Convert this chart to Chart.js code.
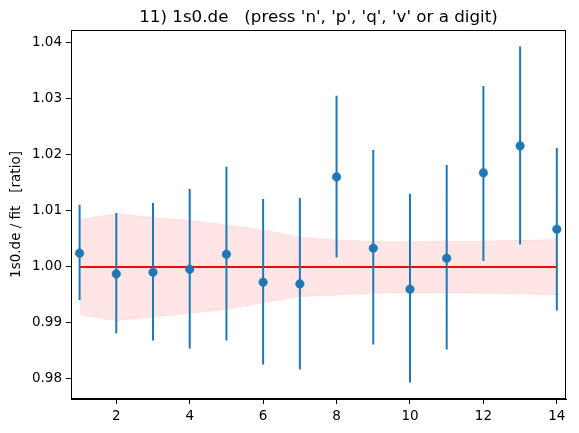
<!DOCTYPE html>
<html>
<head>
<meta charset="utf-8">
<script src="https://cdn.jsdelivr.net/npm/chart.js@4/dist/chart.umd.min.js"></script>
<style>
html,body{margin:0;padding:0;background:#fff;}
#wrap{width:579px;height:433px;}
</style>
</head>
<body>
<div id="wrap"><canvas id="c" width="579" height="433"></canvas></div>
<script>
const xs = [1,2,3,4,5,6,7,8,9,10,11,12,13,14];
const ratio = [1.00245,0.99875,0.99905,0.99958,1.00226,0.99726,0.99696,1.01607,1.00333,0.99601,1.00155,1.01679,1.02161,1.00673];
const errHi = [1.0111,1.00964,1.01143,1.01393,1.01786,1.01214,1.01232,1.03054,1.02089,1.01304,1.01821,1.03232,1.03934,1.02125];
const errLo = [0.9941,0.98809,0.98684,0.98541,0.98684,0.98256,0.98167,1.00167,0.98613,0.97934,0.98524,1.00107,1.00399,0.9922];
const bandHi = [1.0084,1.0095,1.0088,1.0083,1.0075,1.0066,1.0053,1.0048,1.0045,1.0045,1.0046,1.0046,1.0047,1.0049];
const bandLo = [0.9915,0.9904,0.9911,0.9917,0.9924,0.9936,0.9947,0.9950,0.9953,0.9954,0.9954,0.9953,0.9952,0.9950];
const fitLine = [1.0,1.0];
const xTicks = [2,4,6,8,10,12,14];
const yTicks = [0.98,0.99,1.00,1.01,1.02,1.03,1.04];
const titleText = "11) 1s0.de   (press 'n', 'p', 'q', 'v' or a digit)";
const yLabel = "1s0.de / fit   [ratio]";

const errData = [];
xs.forEach((x,i)=>{ errData.push({x:x,y:errLo[i]},{x:x,y:errHi[i]},{x:x,y:null}); });

const FONT = 'DejaVu Sans';

const frame = {
  id:'frame',
  afterDatasetsDraw(chart){
    const a = chart.chartArea, ctx = chart.ctx;
    ctx.save();
    ctx.strokeStyle = '#000';
    ctx.lineWidth = 1;
    ctx.strokeRect(Math.round(a.left)+0.5, Math.round(a.top)+0.5, Math.round(a.right-a.left)-1, Math.round(a.bottom-a.top)-1);
    ctx.restore();
  },
  afterDraw(chart){
    const a = chart.chartArea, ctx = chart.ctx;
    ctx.save();
    ctx.fillStyle = '#000';
    ctx.font = '16.7px "' + FONT + '"';
    ctx.textAlign = 'center';
    ctx.textBaseline = 'alphabetic';
    ctx.fillText(titleText, (a.left + a.right)/2, 21.5);
    ctx.restore();
  }
};

new Chart(document.getElementById('c'), {
  type:'scatter',
  data:{
    datasets:[
      {label:'ratio', data: xs.map((x,i)=>({x:x,y:ratio[i]})), showLine:false,
       pointRadius:4.3, pointHoverRadius:4.3, pointBackgroundColor:'#1f77b4', pointBorderColor:'#1f77b4', pointBorderWidth:0.5, order:0},
      {label:'err', data: errData, showLine:true, spanGaps:false, borderColor:'#1f77b4', borderWidth:2,
       pointRadius:0, borderCapStyle:'butt', order:1},
      {label:'fit', data: [{x:xs[0],y:fitLine[0]},{x:xs[xs.length-1],y:fitLine[1]}], showLine:true, borderColor:'#ff0000', borderWidth:2, pointRadius:0, order:2},
      {label:'bandHi', data: xs.map((x,i)=>({x:x,y:bandHi[i]})), showLine:true, borderColor:'rgba(255,0,0,0.08)', borderWidth:1,
       backgroundColor:'rgba(255,0,0,0.1)', fill:'+1', pointRadius:0, tension:0, order:3},
      {label:'bandLo', data: xs.map((x,i)=>({x:x,y:bandLo[i]})), showLine:true, borderColor:'rgba(255,0,0,0.08)', borderWidth:1,
       fill:false, pointRadius:0, tension:0, order:4}
    ]
  },
  options:{
    responsive:false, animation:false, devicePixelRatio:1,
    layout:{padding:{left:0,right:13,top:30,bottom:0}},
    plugins:{
      legend:{display:false}, tooltip:{enabled:false}, title:{display:false}
    },
    scales:{
      x:{type:'linear', min:0.766, max:14.25,
         afterBuildTicks(s){ s.ticks = xTicks.map(v=>({value:v})); },
         afterFit(s){ s.height = 34; },
         grid:{drawOnChartArea:false, tickLength:5, tickColor:'#000', tickWidth:1},
         border:{display:true, color:'#000', width:1},
         ticks:{color:'#000', font:{family:FONT,size:13.5}, padding:4, maxRotation:0, callback:v=>String(v)}
      },
      y:{type:'linear', min:0.97641, max:1.0423,
         afterBuildTicks(s){ s.ticks = yTicks.map(v=>({value:v})); },
         afterFit(s){ s.width = 71; },
         grid:{drawOnChartArea:false, tickLength:5, tickColor:'#000', tickWidth:1},
         border:{display:true, color:'#000', width:1},
         ticks:{color:'#000', font:{family:FONT,size:13.5}, padding:4, callback:v=>Number(v).toFixed(2)},
         title:{display:true, text:yLabel, color:'#000', font:{family:FONT,size:13.5}, padding:{top:8,bottom:0}}
      }
    }
  },
  plugins:[frame]
});
</script>
</body>
</html>
